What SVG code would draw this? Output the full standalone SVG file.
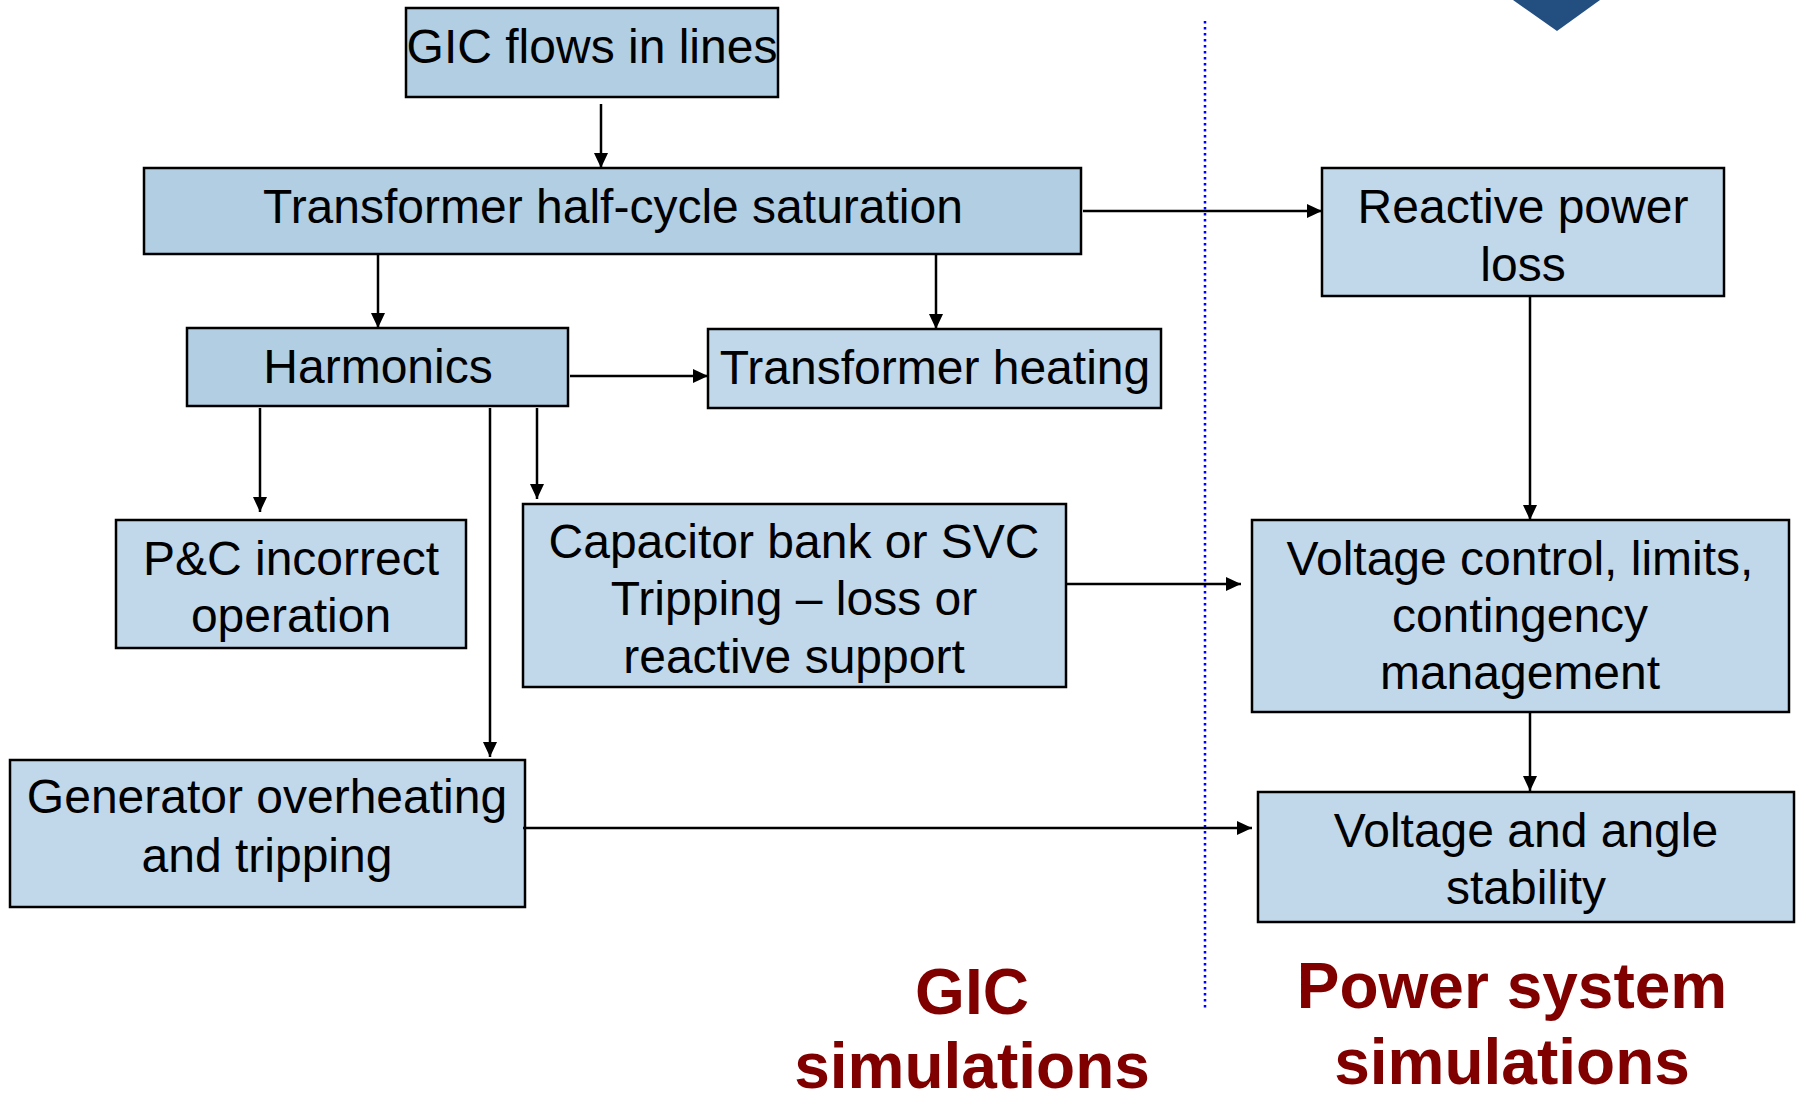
<svg xmlns="http://www.w3.org/2000/svg" width="1796" height="1096" viewBox="0 0 1796 1096">
<style>
.box{stroke:#000;stroke-width:2.5}
.d{fill:#b1cee3}
.l{fill:#c1d7ea}
.t{font-family:"Liberation Sans",Arial,sans-serif;font-size:48px;fill:#000;text-anchor:middle}
.r{font-family:"Liberation Sans",Arial,sans-serif;font-size:64px;font-weight:bold;fill:#800000;text-anchor:middle}
.c{fill:none;stroke:#000;stroke-width:2.5;marker-end:url(#ah)}
</style>
<defs>
<marker id="ah" markerUnits="userSpaceOnUse" markerWidth="15" markerHeight="14" refX="15" refY="7" orient="auto">
<path d="M0,0 L15,7 L0,14 Z" fill="#000"/>
</marker>
</defs>
<rect width="1796" height="1096" fill="#fff"/>
<polygon points="1513,0 1600,0 1557,31" fill="#234e80"/>
<line x1="1205" y1="21" x2="1205" y2="1010" stroke="#0000ff" stroke-width="2.5" stroke-dasharray="2.5,3.5"/>
<g id="n-gic">
<rect class="box d" x="406" y="8" width="372" height="89"/>
<text class="t" x="592" y="63">GIC flows in lines</text>
</g>
<g id="n-sat">
<rect class="box d" x="144" y="168" width="937" height="86"/>
<text class="t" x="613" y="223">Transformer half-cycle saturation</text>
</g>
<g id="n-reactive">
<rect class="box l" x="1322" y="168" width="402" height="128"/>
<text class="t" x="1523" y="223">Reactive power</text>
<text class="t" x="1523" y="281">loss</text>
</g>
<g id="n-harm">
<rect class="box d" x="187" y="328" width="381" height="78"/>
<text class="t" x="378" y="383">Harmonics</text>
</g>
<g id="n-heat">
<rect class="box l" x="708" y="329" width="453" height="79"/>
<text class="t" x="935" y="384">Transformer heating</text>
</g>
<g id="n-pc">
<rect class="box l" x="116" y="520" width="350" height="128"/>
<text class="t" x="291" y="575">P&amp;C incorrect</text>
<text class="t" x="291" y="632">operation</text>
</g>
<g id="n-cap">
<rect class="box l" x="523" y="504" width="543" height="183"/>
<text class="t" x="794" y="558">Capacitor bank or SVC</text>
<text class="t" x="794" y="615">Tripping – loss or</text>
<text class="t" x="794" y="673">reactive support</text>
</g>
<g id="n-vc">
<rect class="box l" x="1252" y="520" width="537" height="192"/>
<text class="t" x="1520" y="575">Voltage control, limits,</text>
<text class="t" x="1520" y="632">contingency</text>
<text class="t" x="1520" y="689">management</text>
</g>
<g id="n-gen">
<rect class="box l" x="10" y="760" width="515" height="147"/>
<text class="t" x="267" y="813">Generator overheating</text>
<text class="t" x="267" y="872">and tripping</text>
</g>
<g id="n-va">
<rect class="box l" x="1258" y="792" width="536" height="130"/>
<text class="t" x="1526" y="847">Voltage and angle</text>
<text class="t" x="1526" y="904">stability</text>
</g>
<g id="labels">
<text class="r" x="972" y="1014">GIC</text>
<text class="r" x="972" y="1088">simulations</text>
<text class="r" x="1512" y="1008">Power system</text>
<text class="r" x="1512" y="1084">simulations</text>
</g>
<g id="connectors">
<path class="c" d="M601 104 V168"/>
<path class="c" d="M378 255 V328"/>
<path class="c" d="M936 255 V329"/>
<path class="c" d="M1083 211 H1322"/>
<path class="c" d="M570 376 H708"/>
<path class="c" d="M260 408 V512"/>
<path class="c" d="M490 408 V757"/>
<path class="c" d="M537 408 V499"/>
<path class="c" d="M1530 296 V520"/>
<path class="c" d="M1066 584 H1241"/>
<path class="c" d="M1530 712 V791"/>
<path class="c" d="M523 828 H1252"/>
</g>
</svg>
